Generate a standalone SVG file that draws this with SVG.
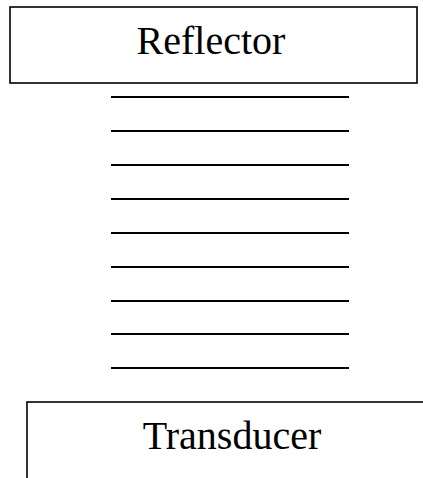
<svg xmlns="http://www.w3.org/2000/svg" width="423" height="478" viewBox="0 0 423 478">
  <style>
    .box { fill: #ffffff; stroke: #000000; stroke-width: 1.6; }
    .label { font-family: "Liberation Serif", "Times New Roman", serif; font-size: 40px; fill: #000000; text-anchor: middle; }
    .wave { stroke: #000000; stroke-width: 2; }
  </style>
  <rect width="423" height="478" fill="#ffffff"/>
  <g id="reflector">
    <rect class="box" x="10" y="7" width="407" height="76"/>
    <text class="label" x="211" y="54">Reflector</text>
  </g>
  <g id="transducer">
    <rect class="box" x="27" y="402" width="420" height="100"/>
    <text class="label" x="232" y="449">Transducer</text>
  </g>
  <g id="connectors">
    <line class="wave" x1="111" y1="97" x2="349" y2="97"/>
    <line class="wave" x1="111" y1="131" x2="349" y2="131"/>
    <line class="wave" x1="111" y1="165" x2="349" y2="165"/>
    <line class="wave" x1="111" y1="199" x2="349" y2="199"/>
    <line class="wave" x1="111" y1="233" x2="349" y2="233"/>
    <line class="wave" x1="111" y1="267" x2="349" y2="267"/>
    <line class="wave" x1="111" y1="301" x2="349" y2="301"/>
    <line class="wave" x1="111" y1="334" x2="349" y2="334"/>
    <line class="wave" x1="111" y1="368" x2="349" y2="368"/>
  </g>
</svg>
